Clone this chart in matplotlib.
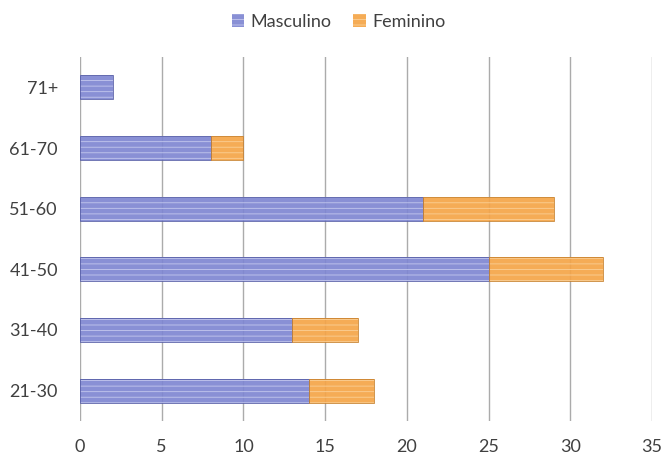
import matplotlib
matplotlib.use("Agg")
import matplotlib.pyplot as plt
import numpy as np

plt.rcParams['font.family'] = ['Lato', 'DejaVu Sans']

faixas = ["21-30", "31-40", "41-50", "51-60", "61-70", "71+"]
masculino = [14, 13, 25, 21, 8, 2]
feminino = [4, 4, 7, 8, 2, 0]

C_MASC = "#7f87d2"; C_FEM = "#f5a548"
C_TXT = "#404040"; C_GRID = "#ababab"

fig = plt.figure(figsize=(6.64, 4.59), dpi=100)
ax = fig.add_axes([0.1205, 0.0828, 0.8615, 0.793])

y = np.arange(len(faixas))
h = 0.4
# light horizontal stripes give the bars a glossy look
plt.rcParams['hatch.linewidth'] = 0.6
b1 = ax.barh(y, masculino, height=h, color=C_MASC, edgecolor="#c9cdf0",
             hatch="---", linewidth=0, label="Masculino", zorder=2, alpha=0.92)
b2 = ax.barh(y, feminino, left=masculino, height=h, color=C_FEM, edgecolor="#fbd39c",
             hatch="---", linewidth=0, label="Feminino", zorder=2, alpha=0.92)
ax.barh(y, masculino, height=h, fill=False, edgecolor="#5a61a8", linewidth=0.6, zorder=3)
ax.barh([yy for yy, f in zip(y, feminino) if f > 0], [f for f in feminino if f > 0],
        left=[m for m, f in zip(masculino, feminino) if f > 0], height=h, fill=False,
        edgecolor="#c98330", linewidth=0.6, zorder=3)

ax.set_xlim(0, 35)
ax.set_ylim(-0.5, len(faixas) - 0.5)
ax.set_xticks(range(0, 36, 5))
ax.set_yticks(y)
ax.set_yticklabels(faixas)
ax.xaxis.grid(True, color=C_GRID, linewidth=1.0, zorder=1)
ax.set_axisbelow(True)
for s in ax.spines.values():
    s.set_visible(False)
ax.tick_params(length=0, labelsize=13, colors=C_TXT)
ax.tick_params(axis="x", pad=13)
ax.tick_params(axis="y", pad=16)

leg = fig.legend(handles=[b1, b2], loc="upper center", bbox_to_anchor=(0.51, 1.005),
                 ncol=2, frameon=False, fontsize=13, handlelength=0.7, handleheight=0.7,
                 columnspacing=1.2, handletextpad=0.35)
for t in leg.get_texts():
    t.set_color(C_TXT)

fig.savefig("out.png", dpi=100)
